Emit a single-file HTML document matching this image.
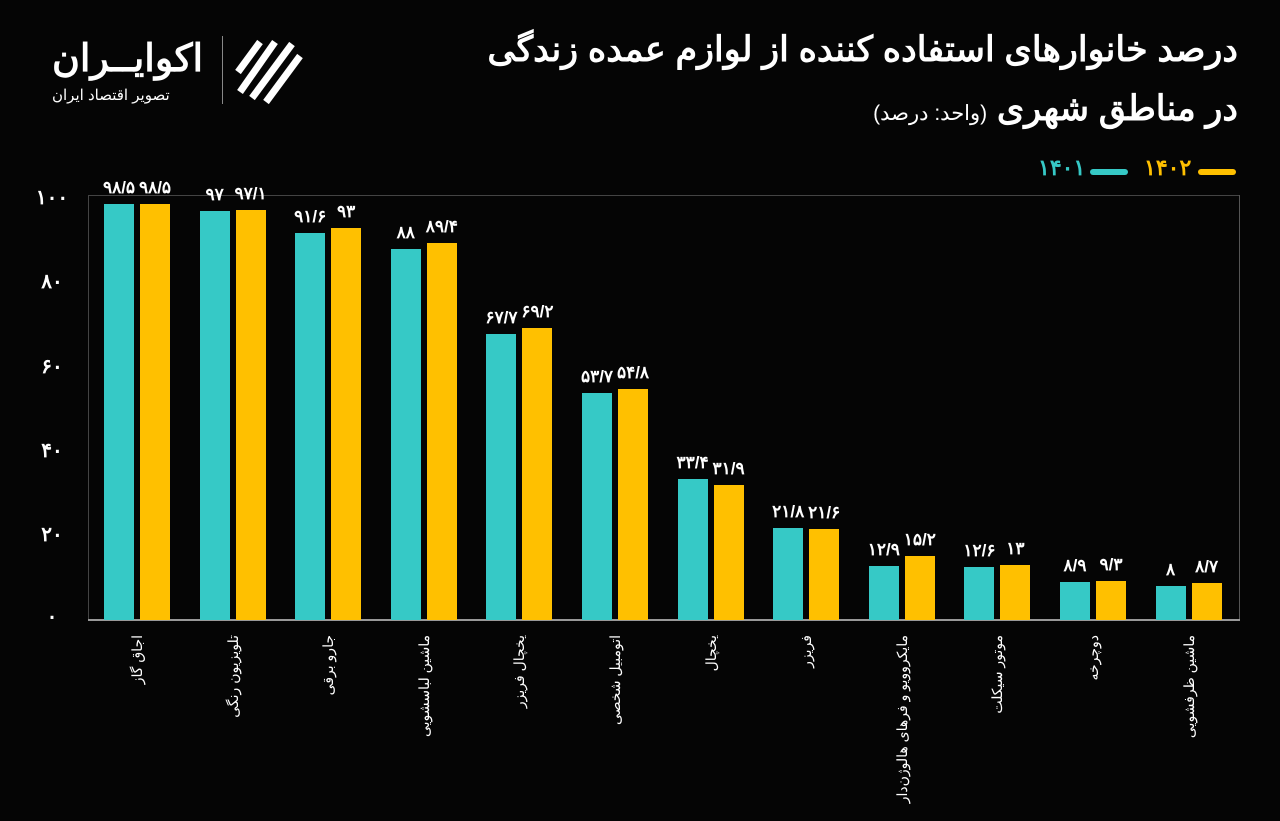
<!DOCTYPE html>
<html style="width:1280px;height:821px;overflow:hidden"><head><meta charset="utf-8"><style>
body{margin:0;width:1280px;height:821px;background:#050505;overflow:hidden;position:relative;font-family:"Liberation Sans","Noto Sans CJK SC",sans-serif;color:#fff}
.a{position:absolute}
.t{right:42px;font-weight:bold;font-size:35px;direction:rtl;white-space:nowrap}
.v{position:absolute;width:60px;text-align:center;font-weight:bold;font-size:17px;margin-left:-30px;letter-spacing:-0.5px}
.lab{position:absolute;width:185px;height:20px;line-height:20px;text-align:right;direction:rtl;white-space:nowrap;font-size:14px;transform-origin:right center;transform:rotate(-90deg)}
.yl{position:absolute;left:30px;width:44px;text-align:center;font-weight:bold;font-size:20px}
</style></head><body>
<div class="a t" style="top:30px">درصد خانوارهای استفاده کننده از لوازم عمده زندگی</div>
<div class="a t" style="top:89px">در مناطق شهری <span style="font-size:21px;font-weight:normal">(واحد: درصد)</span></div>
<div class="a" style="left:52px;top:36px;font-size:38px;font-weight:bold">اکوایــران</div>
<div class="a" style="left:52px;top:86px;font-size:15px">تصویر اقتصاد ایران</div>
<div class="a" style="left:222px;top:36px;width:1px;height:68px;background:#888"></div>
<svg class="a" style="left:230px;top:32px" width="80" height="76"><g fill="none" stroke="#fff" stroke-width="7"><path d="M10 60 L45 10"/><path d="M22 66 L62 12"/><path d="M36 70 L70 24"/><path d="M8 40 L30 10"/></g></svg>
<div class="a" style="left:1198px;top:169px;width:38px;height:6px;border-radius:3px;background:#ffc000"></div>
<div class="a" style="left:1144px;top:155px;font-size:22px;font-weight:bold;color:#ffc000">۱۴۰۲</div>
<div class="a" style="left:1090px;top:169px;width:38px;height:6px;border-radius:3px;background:#36c9c6"></div>
<div class="a" style="left:1038px;top:155px;font-size:22px;font-weight:bold;color:#36c9c6">۱۴۰۱</div>
<div class="a" style="left:88px;top:195px;width:1152px;height:1px;background:#444"></div>
<div class="a" style="left:1239px;top:195px;width:1px;height:426px;background:#555"></div>
<div class="a" style="left:88px;top:195px;width:1px;height:426px;background:#444"></div>
<div class="a" style="left:88px;top:619px;width:1152px;height:2px;background:#999"></div>
<div class="yl" style="top:185px">۱۰۰</div>
<div class="yl" style="top:269px">۸۰</div>
<div class="yl" style="top:354px">۶۰</div>
<div class="yl" style="top:438px">۴۰</div>
<div class="yl" style="top:522px">۲۰</div>
<div class="yl" style="top:604px">۰</div>
<div id="c"></div>
<script>
var d=[["اجاق گاز",98.5,98.5,"۹۸/۵","۹۸/۵"],["تلویزیون رنگی",97,97.1,"۹۷","۹۷/۱"],["جارو برقی",91.6,93,"۹۱/۶","۹۳"],["ماشین لباسشویی",88,89.4,"۸۸","۸۹/۴"],["یخچال فریزر",67.7,69.2,"۶۷/۷","۶۹/۲"],["اتومبیل شخصی",53.7,54.8,"۵۳/۷","۵۴/۸"],["یخچال",33.4,31.9,"۳۳/۴","۳۱/۹"],["فریزر",21.8,21.6,"۲۱/۸","۲۱/۶"],["مایکروویو و فرهای هالوژن‌دار",12.9,15.2,"۱۲/۹","۱۵/۲"],["موتور سیکلت",12.6,13,"۱۲/۶","۱۳"],["دوچرخه",8.9,9.3,"۸/۹","۹/۳"],["ماشین ظرفشویی",8,8.7,"۸","۸/۷"]];
var h="";d.forEach(function(r,i){var x=104+i*95.6;var h1=r[1]*4.22,h2=r[2]*4.22;
h+='<div class="a" style="left:'+x+'px;top:'+(620-h1)+'px;width:30px;height:'+h1+'px;background:#36c9c6"></div>';
h+='<div class="a" style="left:'+(x+36)+'px;top:'+(620-h2)+'px;width:30px;height:'+h2+'px;background:#ffc000"></div>';
h+='<div class="v" style="left:'+(x+15)+'px;top:'+(620-h1-26)+'px">'+r[3]+'</div>';
h+='<div class="v" style="left:'+(x+51)+'px;top:'+(620-h2-26)+'px">'+r[4]+'</div>';
h+='<div class="lab" style="left:'+(x+33-185)+'px;top:'+(635-10)+'px">'+r[0]+'</div>';});
document.getElementById("c").innerHTML=h;
</script>
</body></html>
